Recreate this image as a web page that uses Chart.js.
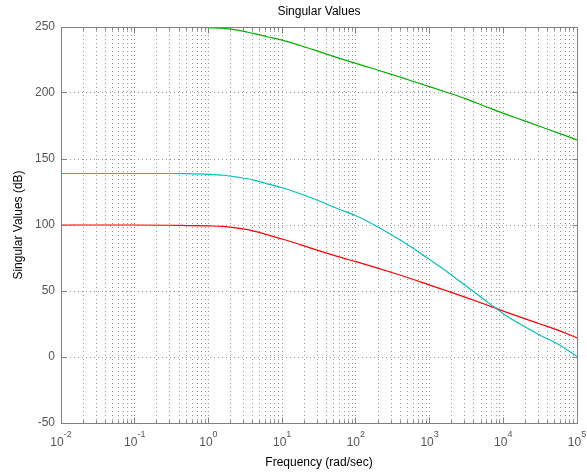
<!DOCTYPE html>
<html>
<head>
<meta charset="utf-8">
<title>Singular Values</title>
<script src="https://cdn.jsdelivr.net/npm/chart.js@4/dist/chart.umd.min.js"></script>
<style>
  body { margin: 0; background: #fff; }
  #wrap { width: 587px; height: 475px; }
</style>
</head>
<body>
<div id="wrap"><canvas id="sv-chart" width="587" height="475"></canvas></div>
<script>
// frequency samples (rad/sec) and singular values (dB)
const freqs = [0.01, 0.03, 0.1, 0.3, 0.5, 1, 1.6, 2.5, 4, 6.3, 10, 18, 32, 56, 100, 178, 316, 562,
    1000, 1778, 3162, 5623, 10000, 17783, 31623, 56234, 100000];
const svGreen = [252, 252, 252, 251.5, 250, 249.6, 249, 247.6, 245.2, 242.6, 240, 235.8, 231.3, 226.8,
    222.4, 218.2, 213.8, 209.3, 204.8, 200.2, 195.4, 190, 184.6, 179.6, 174.6, 169.6, 164.5];
const svCyan = [139, 139, 139, 139, 138.9, 138.4, 137.7, 136.2, 134.2, 131.2, 128.2, 123.5, 118.2, 112.5,
    107, 100, 92, 83.3, 73.8, 64, 53.6, 43.2, 32.8, 24.2, 16.5, 9.5, 0.5];
const svRed = [100, 100, 100, 99.8, 99.6, 99.3, 98.9, 97.6, 95.6, 92.6, 89.4, 84.9, 80.4, 76.2,
    72.2, 68.1, 63.8, 59.3, 54.5, 49.8, 45, 40, 34.8, 29.8, 25, 20.2, 14.5];

// axis ticks
const decadeExps = [-2, -1, 0, 1, 2, 3, 4, 5];
const yTicks = [-50, 0, 50, 100, 150, 200, 250];

const FONT = 'Liberation Sans, Arial, sans-serif';
const AXIS_GREY = '#808080';

const toPoints = vals => vals.map((v, i) => ({ x: freqs[i], y: v }));

function line(data, color) {
    return {
        data: toPoints(data),
        borderColor: color,
        borderWidth: 1.2,
        pointRadius: 0,
        cubicInterpolationMode: 'monotone',
        fill: false
    };
}

const align = p => Math.round(p - 0.5) + 0.5;

// box, inward ticks, decade labels and title
const matlabAxes = {
    id: 'matlabAxes',
    afterDraw(chart) {
        const { ctx, chartArea: a, scales: { x, y } } = chart;
        const L = align(a.left), R = align(a.right), T = align(a.top), B = align(a.bottom);
        ctx.save();
        ctx.strokeStyle = AXIS_GREY;
        ctx.lineWidth = 1;
        ctx.setLineDash([]);
        ctx.strokeRect(L, T, R - L, B - T);

        ctx.beginPath();
        x.ticks.forEach(t => {
            const px = align(x.getPixelForValue(t.value));
            const len = t.major ? 6 : 3;
            ctx.moveTo(px, B); ctx.lineTo(px, B - len);
            ctx.moveTo(px, T); ctx.lineTo(px, T + len);
        });
        y.ticks.forEach(t => {
            const py = align(y.getPixelForValue(t.value));
            ctx.moveTo(L, py); ctx.lineTo(L + 5, py);
            ctx.moveTo(R, py); ctx.lineTo(R - 5, py);
        });
        ctx.stroke();

        // 10^n labels under the axis
        ctx.fillStyle = '#555';
        ctx.textAlign = 'left';
        ctx.textBaseline = 'alphabetic';
        decadeExps.forEach(e => {
            const px = x.getPixelForValue(Math.pow(10, e));
            ctx.font = '12px ' + FONT;
            const w1 = ctx.measureText('10').width;
            ctx.font = '9px ' + FONT;
            const w2 = ctx.measureText(String(e)).width;
            const start = px - (w1 + w2) / 2;
            ctx.font = '12px ' + FONT;
            ctx.fillText('10', start, a.bottom + 23);
            ctx.font = '9px ' + FONT;
            ctx.fillText(String(e), start + w1, a.bottom + 14);
        });

        ctx.fillStyle = '#000';
        ctx.textAlign = 'center';
        ctx.font = '12px ' + FONT;
        ctx.fillText('Singular Values', (a.left + a.right) / 2, 15);
        ctx.restore();
    }
};

const chart = new Chart(document.getElementById('sv-chart'), {
    type: 'line',
    data: {
        datasets: [
            line(svGreen, '#00b000'),
            line(svCyan, '#00c0c0'),
            line(svRed, '#ff0000')
        ]
    },
    options: {
        responsive: false,
        animation: false,
        layout: { padding: { top: 27, right: 10, left: 0, bottom: 0 } },
        plugins: {
            legend: { display: false },
            tooltip: { enabled: false },
            title: { display: false }
        },
        scales: {
            x: {
                type: 'logarithmic',
                min: 0.01,
                max: 100000,
                afterBuildTicks: scale => {
                    const ticks = [];
                    decadeExps.forEach(e => {
                        const base = Math.pow(10, e);
                        ticks.push({ value: base, major: true });
                        if (e < decadeExps[decadeExps.length - 1]) {
                            for (let m = 2; m <= 9; m++) ticks.push({ value: m * base, major: false });
                        }
                    });
                    scale.ticks = ticks;
                },
                afterFit: scale => { scale.height = 52; },
                ticks: { display: false, autoSkip: false },
                grid: { color: '#999', drawTicks: false, lineWidth: 1 },
                border: { color: AXIS_GREY, dash: [1, 3] },
                title: {
                    display: true,
                    text: 'Frequency (rad/sec)',
                    color: '#000',
                    font: { family: FONT, size: 12 },
                    padding: { top: 0, bottom: 5 }
                }
            },
            y: {
                min: -50,
                max: 250,
                afterBuildTicks: scale => {
                    scale.ticks = yTicks.map(v => ({ value: v }));
                },
                afterFit: scale => { scale.width = 61; },
                ticks: {
                    color: '#555',
                    font: { family: FONT, size: 12 },
                    padding: 6
                },
                grid: { color: '#999', drawTicks: false, lineWidth: 1 },
                border: { color: AXIS_GREY, dash: [1, 3] },
                title: {
                    display: true,
                    text: 'Singular Values (dB)',
                    color: '#000',
                    font: { family: FONT, size: 12 },
                    padding: { top: 11, bottom: 0 }
                }
            }
        }
    },
    plugins: [matlabAxes]
});
</script>
</body>
</html>
